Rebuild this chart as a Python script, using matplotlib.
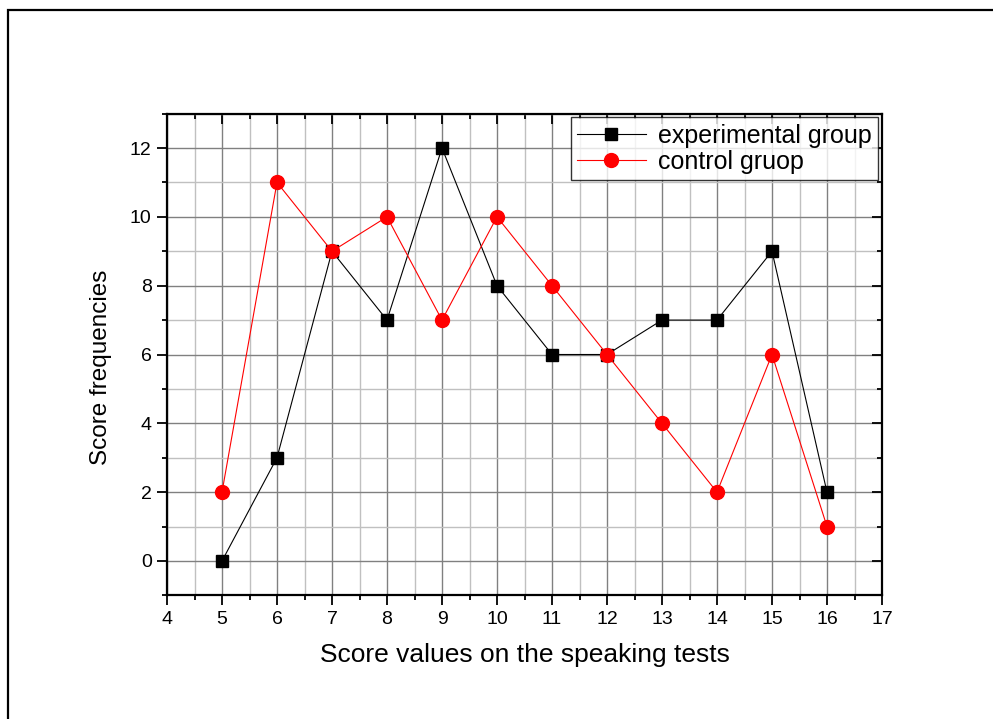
import matplotlib
matplotlib.use("Agg")
import matplotlib.pyplot as plt
from matplotlib.ticker import MultipleLocator
from matplotlib.patches import Rectangle

plt.rcParams['font.family'] = ['Liberation Sans', 'DejaVu Sans']

scores = [5, 6, 7, 8, 9, 10, 11, 12, 13, 14, 15, 16]
experimental = [0, 3, 9, 7, 12, 8, 6, 6, 7, 7, 9, 2]
control = [2, 11, 9, 10, 7, 10, 8, 6, 4, 2, 6, 1]
x_ticks = list(range(4, 18))
y_ticks = [0, 2, 4, 6, 8, 10, 12]

fig = plt.figure(figsize=(9.93, 7.19), dpi=100)
# outer frame (only top and left edges visible in the reference)
fig.add_artist(Rectangle((8/993, -0.1), 1.2, 1 - 10/719 + 0.1, transform=fig.transFigure,
                         fill=False, edgecolor='black', linewidth=1.6))

ax = fig.add_axes([167/993, 1 - 595.4/719, 715/993, (595.4 - 113.6)/719])
ax.set_xlim(4, 17)
ax.set_ylim(-1, 13)

ax.xaxis.set_minor_locator(MultipleLocator(0.5))
ax.yaxis.set_minor_locator(MultipleLocator(1))
ax.set_xticks(x_ticks)
ax.set_yticks(y_ticks)

ax.grid(True, which='major', color='#808080', linewidth=1.0, zorder=0)
ax.grid(True, which='minor', color='#c0c0c0', linewidth=1.0, zorder=0)
ax.set_axisbelow(True)

ax.plot(scores, experimental, color='black', linewidth=0.8, marker='s',
        markersize=8.5, markerfacecolor='black', markeredgecolor='black',
        label='experimental group', zorder=3)
ax.plot(scores, control, color='red', linewidth=0.8, marker='o',
        markersize=10, markerfacecolor='red', markeredgecolor='red',
        label='control gruop', zorder=4)

for s in ax.spines.values():
    s.set_linewidth(1.6)

ax.tick_params(axis='both', which='both', labelsize=14, width=1.3, top=True, right=True)
ax.tick_params(axis='both', which='major', length=7, direction='out', pad=4)
ax.tick_params(axis='both', which='minor', length=3.5, direction='out')
for t in ax.xaxis.get_major_ticks() + ax.xaxis.get_minor_ticks():
    t.tick2line.set_marker(3)  # inward on top (pointing down)
for t in ax.yaxis.get_major_ticks() + ax.yaxis.get_minor_ticks():
    t.tick2line.set_marker(0)  # inward on right (pointing left)

ax.set_xlabel('Score values on the speaking tests', fontsize=19, labelpad=11)
ax.set_ylabel('Score frequencies', fontsize=17.5)
ax.yaxis.set_label_coords(-0.077, 0.474)

leg = ax.legend(loc='upper right', fontsize=18, frameon=True, fancybox=False,
                edgecolor='black', borderaxespad=0.15, handlelength=2.75,
                handletextpad=0.5, borderpad=0.25, labelspacing=0.08)
leg.get_frame().set_linewidth(1.0)

fig.savefig('out.png', dpi=100)
